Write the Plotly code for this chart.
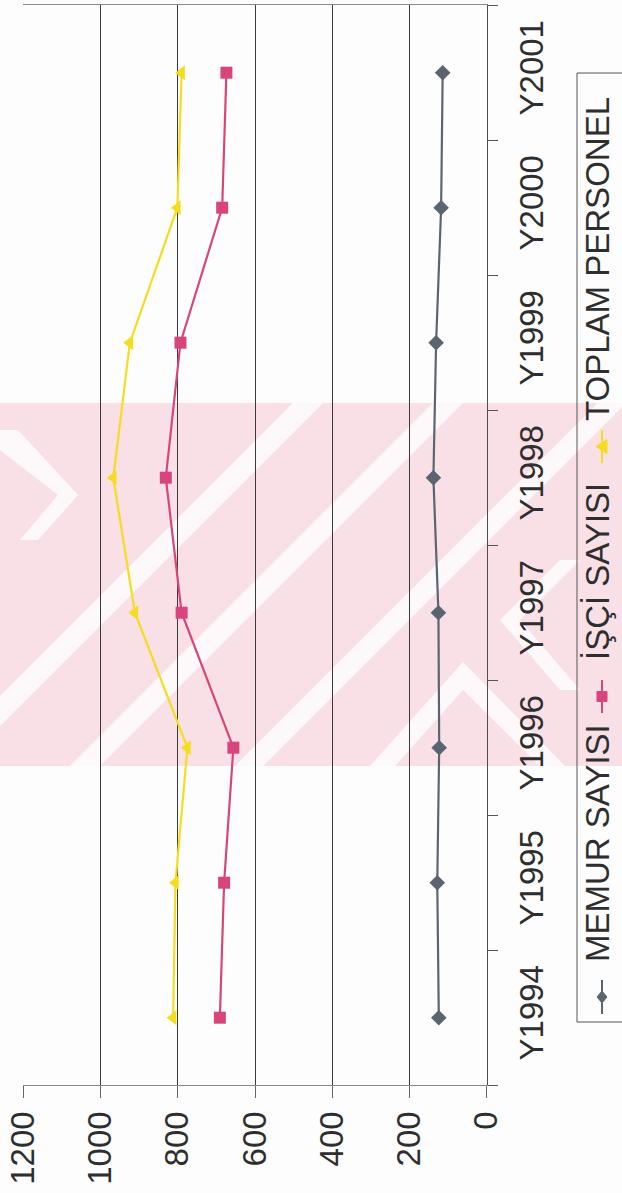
import plotly.graph_objects as go

# ---- data -------------------------------------------------------------
years = ["Y1994", "Y1995", "Y1996", "Y1997", "Y1998", "Y1999", "Y2000", "Y2001"]
memur_sayisi = [124, 128, 123, 125, 138, 131, 118, 114]
isci_sayisi = [691, 680, 656, 790, 831, 793, 685, 674]
toplam_personel = [812, 806, 775, 911, 967, 924, 801, 790]
value_ticks = [0, 200, 400, 600, 800, 1000, 1200]

series_names = ["MEMUR SAYISI", "İŞÇİ SAYISI", "TOPLAM PERSONEL"]
series_colors = ["#5b6571", "#d8457c", "#f6dc1e"]
series_symbols = ["diamond", "square", "triangle-left"]

W, H = 622, 1193
FONT = "Liberation Sans, Arial, sans-serif"
TXT = "#2e2e2e"
GRID = "#3a3a3a"


def px(x):
    return x / W


def py(y):
    return 1 - y / H


def path_of(points):
    return "M " + " L ".join(f"{px(a):.5f},{py(b):.5f}" for a, b in points) + " Z"


fig = go.Figure()

# ---- background watermark (own full-page subplot, drawn first) --------
band = [(-10, 403), (W + 10, 403), (W + 10, 766), (-10, 766)]
stripes = []
for x0, w in [(-70, 30), (70, 30), (235, 28)]:
    stripes.append([(x0, 766), (x0 + w, 766), (x0 + w + 363, 403), (x0 + 363, 403)])
stripes.append([(0, 430), (18, 430), (78, 495), (38, 540), (20, 540), (58, 495), (0, 450)])
stripes.append([(370, 766), (395, 766), (463, 690), (540, 766), (565, 766), (463, 662)])
stripes.append([(560, 560), (580, 560), (520, 620), (580, 690), (560, 690), (500, 620)])


def poly_xy(polys):
    xs, ys = [], []
    for poly in polys:
        for a, b in poly + [poly[0]]:
            xs.append(a)
            ys.append(b)
        xs.append(None)
        ys.append(None)
    return xs, ys


bx, by = poly_xy([band])
fig.add_trace(go.Scatter(x=bx, y=by, mode="lines", fill="toself",
                         fillcolor="#f9e0e6", line=dict(width=0),
                         hoverinfo="skip", showlegend=False,
                         xaxis="x", yaxis="y"))
sx, sy = poly_xy(stripes)
fig.add_trace(go.Scatter(x=sx, y=sy, mode="lines", fill="toself",
                         fillcolor="#fdf9fa", line=dict(width=0),
                         hoverinfo="skip", showlegend=False,
                         xaxis="x", yaxis="y"))

# ---- the chart itself -------------------------------------------------
for vals, name, col, sym, msize in zip(
    [memur_sayisi, isci_sayisi, toplam_personel],
    series_names, series_colors, series_symbols, [12, 12, 13],
):
    fig.add_trace(go.Scatter(
        x=vals, y=years, name=name, mode="lines+markers",
        line=dict(color=col, width=2.2),
        marker=dict(symbol=sym, size=msize, color=col),
        cliponaxis=False, showlegend=False,
        xaxis="x2", yaxis="y2",
    ))

shapes = []
# legend frame
shapes.append(dict(type="rect", xref="paper", yref="paper", layer="above",
                   x0=px(577), x1=px(650), y0=py(1022), y1=py(73),
                   fillcolor="rgba(0,0,0,0)", line=dict(color="#555555", width=1)))

annotations = []
legend_layout = [
    # (symbol line top, symbol line bottom, text centre)
    (980, 1014, 843),
    (680, 713, 572),
    (430, 463, 259),
]
for (s0, s1, tc), name, col, sym in zip(legend_layout, series_names, series_colors, series_symbols):
    xc = 602
    shapes.append(dict(type="line", xref="paper", yref="paper", layer="above",
                       x0=px(xc), x1=px(xc), y0=py(s1), y1=py(s0),
                       line=dict(color=col, width=2)))
    mc = (s0 + s1) / 2
    if sym == "diamond":
        pts = [(xc, mc - 6), (xc + 5, mc), (xc, mc + 6), (xc - 5, mc)]
    elif sym == "square":
        pts = [(xc - 5, mc - 5), (xc + 5, mc - 5), (xc + 5, mc + 5), (xc - 5, mc + 5)]
    else:
        pts = [(xc - 6, mc), (xc + 5, mc - 7), (xc + 5, mc + 7)]
    shapes.append(dict(type="path", xref="paper", yref="paper", layer="above",
                       path=path_of(pts), fillcolor=col, line=dict(color=col, width=1)))
    annotations.append(dict(
        text=name, x=px(597), y=py(tc), xref="paper", yref="paper",
        xanchor="center", yanchor="middle", showarrow=False, textangle=-90,
        font=dict(family=FONT, size=33, color=TXT),
    ))

fig.update_layout(
    width=W, height=H, autosize=False,
    margin=dict(l=0, r=0, t=0, b=0),
    paper_bgcolor="#fdfdfd", plot_bgcolor="rgba(0,0,0,0)",
    shapes=shapes, annotations=annotations, showlegend=False,
    xaxis=dict(domain=[0, 1], range=[0, W], visible=False, fixedrange=True),
    yaxis=dict(domain=[0, 1], range=[H, 0], visible=False, fixedrange=True),
    xaxis2=dict(
        anchor="y2",
        domain=[px(23.3), px(486.7)], range=[1200, 0], autorange=False,
        tickvals=value_ticks, ticktext=[str(v) for v in value_ticks],
        tickangle=-90, ticks="outside", ticklen=12, tickcolor="#666666",
        tickfont=dict(family=FONT, size=33, color=TXT),
        showgrid=True, gridcolor=GRID, gridwidth=1.2,
        showline=True, linecolor="#8a8a8a", linewidth=1, mirror=True,
        zeroline=False, automargin=False,
    ),
    yaxis2=dict(
        anchor="x2",
        domain=[py(1085.2), py(5.2)], type="category",
        categoryorder="array", categoryarray=years, range=[-0.5, 7.5],
        side="right", ticks="outside", tickson="boundaries", ticklen=10,
        tickcolor="#555555", tickangle=-90, ticklabelstandoff=16,
        tickfont=dict(family=FONT, size=33, color=TXT),
        showgrid=False, showline=True, linecolor="#4d4d4d", linewidth=1,
        zeroline=False, automargin=False,
    ),
)

fig.write_html("out.html")
